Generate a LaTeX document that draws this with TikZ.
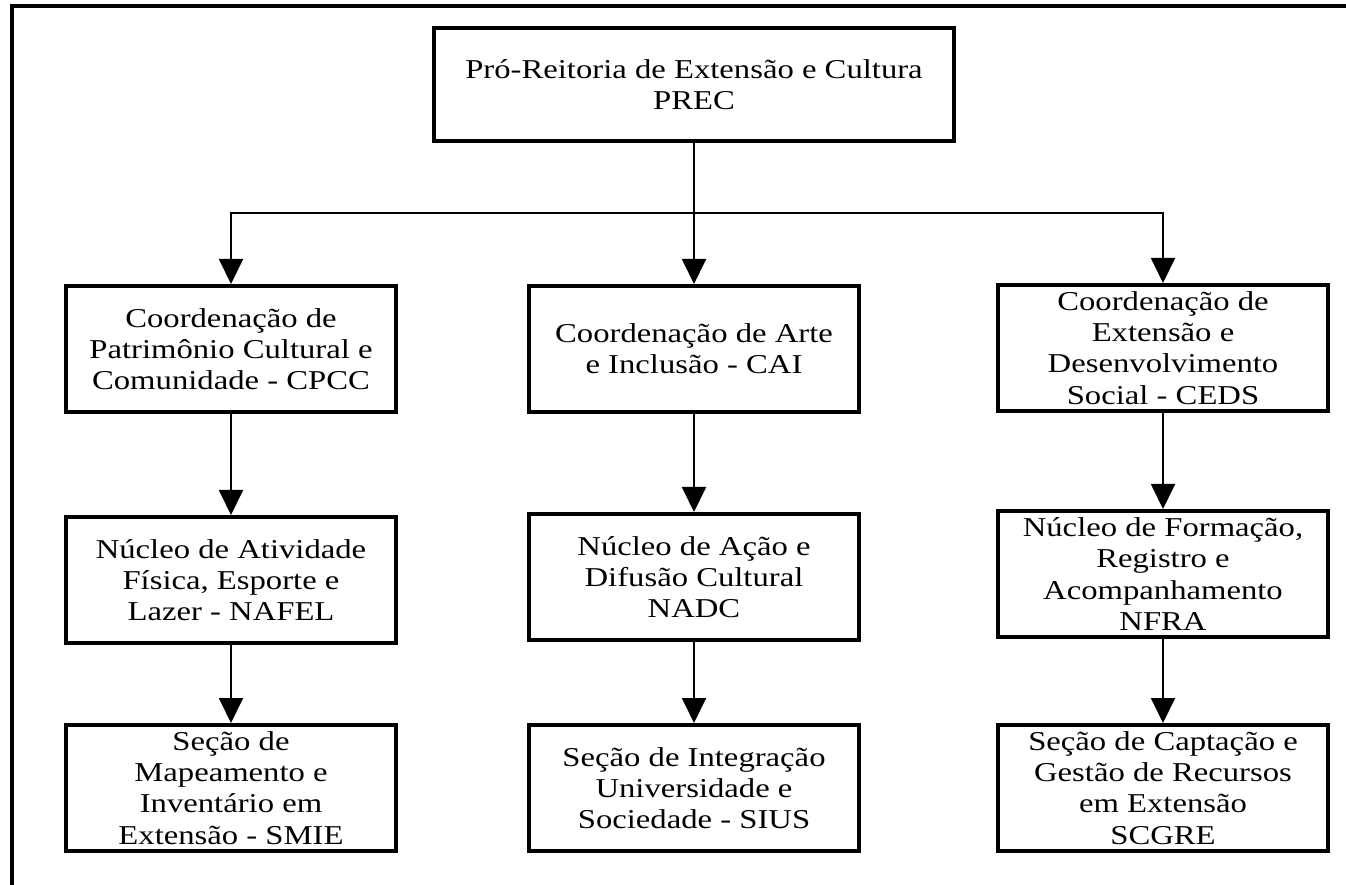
\documentclass[tikz,border=0pt]{standalone}
\usepackage{fontspec}
\setmainfont{Liberation Serif}[FakeStretch=1.2]
\usepackage{tikz}
\usetikzlibrary{arrows.meta, positioning}
\definecolor{orgblack}{RGB}{0,0,0}

\begin{document}
\begin{tikzpicture}[x=0.02cm, y=-0.02cm,
    every node/.style={font=\fontsize{15.5}{17.8}\selectfont},
    unitbox/.style={draw=orgblack, line width=2.3pt, align=center,
        minimum width=6.6cm, minimum height=2.52cm, inner sep=0pt},
    link/.style={orgblack, line width=1.1pt,
        -{Triangle[width=0.48cm, length=0.5cm]}}]
  \useasboundingbox (0,0) rectangle (1346,885);

  % Outer frame (only left and top edges are visible)
  \draw[line width=2.3pt] (12,895) -- (12,6) -- (1356,6);

  % Top: Pro-Reitoria
  \node[unitbox, minimum width=10.4cm, minimum height=2.26cm]
    (prec) at (694,84.5) {Pró-Reitoria de Extensão e Cultura\\PREC};

  % Coordenacoes
  \node[unitbox] (cpcc) at (231,349)
    {Coordenação de\\Patrimônio Cultural e\\Comunidade - CPCC};
  \node[unitbox] (cai) at (694,349)
    {Coordenação de Arte\\e Inclusão - CAI};
  \node[unitbox] (ceds) at (1163,348)
    {Coordenação de\\Extensão e\\Desenvolvimento\\Social - CEDS};

  % Nucleos
  \node[unitbox] (nafel) at (231,580)
    {Núcleo de Atividade\\Física, Esporte e\\Lazer - NAFEL};
  \node[unitbox] (nadc) at (694,577)
    {Núcleo de Ação e\\Difusão Cultural\\NADC};
  \node[unitbox] (nfra) at (1163,574)
    {Núcleo de Formação,\\Registro e\\Acompanhamento\\NFRA};

  % Secoes
  \node[unitbox] (smie) at (231,788)
    {Seção de\\Mapeamento e\\Inventário em\\Extensão - SMIE};
  \node[unitbox] (sius) at (694,788)
    {Seção de Integração\\Universidade e\\Sociedade - SIUS};
  \node[unitbox] (scgre) at (1163,788)
    {Seção de Captação e\\Gestão de Recursos\\em Extensão\\SCGRE};

  % Connectors
  \coordinate (bus) at (694,213);
  \draw[link] (prec.south) -- (cai.north);
  \draw[link] (bus) -| (cpcc.north);
  \draw[link] (bus) -| (ceds.north);
  \draw[link] (cpcc) -- (nafel);
  \draw[link] (nafel) -- (smie);
  \draw[link] (cai) -- (nadc);
  \draw[link] (nadc) -- (sius);
  \draw[link] (ceds) -- (nfra);
  \draw[link] (nfra) -- (scgre);
\end{tikzpicture}
\end{document}
